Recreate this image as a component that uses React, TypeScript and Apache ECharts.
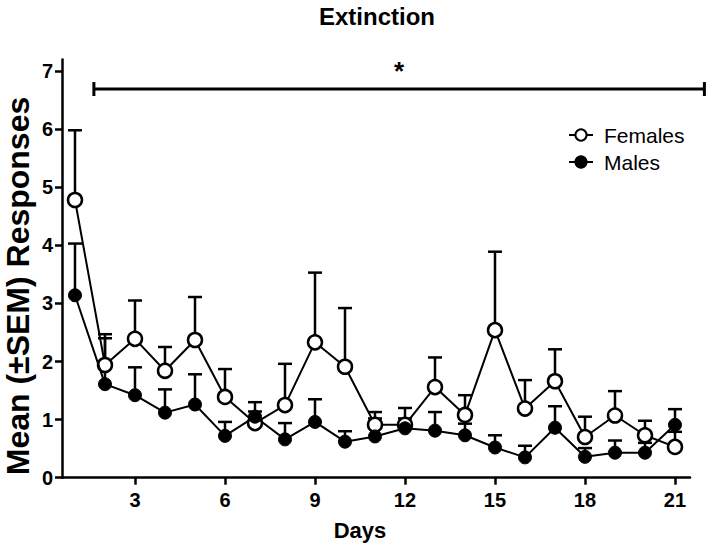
import React, { useEffect, useRef } from "react";
import * as echarts from "echarts";

const days = [1, 2, 3, 4, 5, 6, 7, 8, 9, 10, 11, 12, 13, 14, 15, 16, 17, 18, 19, 20, 21];
const females = [4.78, 1.94, 2.39, 1.84, 2.37, 1.39, 0.94, 1.25, 2.33, 1.91, 0.91, 0.91, 1.56, 1.08, 2.54, 1.19, 1.66, 0.7, 1.07, 0.73, 0.53];
const femalesSEM = [1.2, 0.53, 0.66, 0.41, 0.74, 0.48, 0.2, 0.71, 1.2, 1.01, 0.22, 0.29, 0.51, 0.34, 1.35, 0.49, 0.55, 0.35, 0.42, 0.25, 0.26];
const males = [3.14, 1.61, 1.42, 1.12, 1.26, 0.72, 1.05, 0.66, 0.96, 0.62, 0.71, 0.85, 0.81, 0.73, 0.52, 0.35, 0.86, 0.36, 0.43, 0.43, 0.91];
const malesSEM = [0.89, 0.79, 0.48, 0.4, 0.52, 0.24, 0.25, 0.28, 0.39, 0.18, 0.31, 0.17, 0.32, 0.2, 0.21, 0.2, 0.37, 0.15, 0.21, 0.17, 0.27];
const xTicks = [3, 6, 9, 12, 15, 18, 21];
const yTicks = [0, 1, 2, 3, 4, 5, 6, 7];
const sigBar = { start: 1.63, end: 21.98, y: 6.69, label: "*" };

const FONT = "'Liberation Sans', Arial, Helvetica, sans-serif";

function errorSeries(name: string, means: number[], sems: number[]) {
  return {
    type: "custom",
    name: name + " SEM",
    z: 1,
    silent: true,
    encode: { x: 0, y: [1, 2] },
    data: days.map((d, i) => [d, means[i], means[i] + sems[i]]),
    renderItem: (params: any, api: any) => {
      const x = api.value(0);
      const p0 = api.coord([x, api.value(1)]);
      const p1 = api.coord([x, api.value(2)]);
      return {
        type: "group",
        children: [
          { type: "line", shape: { x1: p0[0], y1: p0[1], x2: p1[0], y2: p1[1] }, style: { stroke: "#000", lineWidth: 2.5 } },
          { type: "line", shape: { x1: p1[0] - 7, y1: p1[1], x2: p1[0] + 7, y2: p1[1] }, style: { stroke: "#000", lineWidth: 2.5 } },
        ],
      };
    },
  };
}

export default function App() {
  const ref = useRef<HTMLDivElement>(null);
  useEffect(() => {
    if (!ref.current) return;
    const chart = echarts.init(ref.current, undefined, { renderer: "svg" });
    chart.setOption({
      animation: false,
      backgroundColor: "#fff",
      textStyle: { fontFamily: FONT },
      grid: { left: 62, right: 19, top: 59.4, bottom: 74.3, containLabel: false },
      graphic: [
        { type: "text", x: 377, y: 16, style: { text: "Extinction", font: `bold 24px ${FONT}`, fill: "#000", align: "center", verticalAlign: "middle" } },
        { type: "text", x: 360, y: 530, style: { text: "Days", font: `bold 22px ${FONT}`, fill: "#000", align: "center", verticalAlign: "middle" } },
        { type: "text", x: 18, y: 286, rotation: Math.PI / 2, style: { text: "Mean (±SEM) Responses", font: `bold 32px ${FONT}`, fill: "#000", align: "center", verticalAlign: "middle" } },
      ],
      legend: {
        orient: "vertical",
        left: 563,
        top: 118,
        itemWidth: 24,
        itemHeight: 14,
        itemGap: 3,
        data: ["Females", "Males"],
        textStyle: { fontSize: 21, color: "#000", fontFamily: FONT, lineHeight: 24, padding: [0, 0, 0, 6] },
      },
      xAxis: {
        type: "value",
        min: 0.567,
        max: 21.5,
        splitLine: { show: false },
        axisLine: { lineStyle: { color: "#000", width: 2.5 } },
        axisTick: { show: true, length: 7, lineStyle: { color: "#000", width: 2.5 }, customValues: xTicks },
        axisLabel: { customValues: xTicks, color: "#000", fontSize: 20, fontWeight: "bold", margin: 12, fontFamily: FONT },
      },
      yAxis: {
        type: "value",
        min: 0,
        max: 7.2,
        splitLine: { show: false },
        axisLine: { show: true, lineStyle: { color: "#000", width: 2.5 } },
        axisTick: { show: true, length: 7, lineStyle: { color: "#000", width: 2.5 }, customValues: yTicks },
        axisLabel: { customValues: yTicks, color: "#000", fontSize: 20, fontWeight: "bold", margin: 9, fontFamily: FONT },
      },
      series: [
        errorSeries("Females", females, femalesSEM),
        errorSeries("Males", males, malesSEM),
        {
          type: "line",
          name: "Females",
          z: 3,
          data: days.map((d, i) => [d, females[i]]),
          symbol: "circle",
          symbolSize: 14,
          showAllSymbol: true,
          itemStyle: { color: "#fff", borderColor: "#000", borderWidth: 2.5 },
          lineStyle: { color: "#000", width: 2 },
        },
        {
          type: "line",
          name: "Males",
          z: 4,
          data: days.map((d, i) => [d, males[i]]),
          symbol: "circle",
          symbolSize: 13,
          showAllSymbol: true,
          itemStyle: { color: "#000", borderColor: "#000", borderWidth: 1 },
          lineStyle: { color: "#000", width: 2 },
        },
        {
          type: "custom",
          name: "sig",
          silent: true,
          z: 5,
          encode: { x: [0, 1], y: 2 },
          data: [[sigBar.start, sigBar.end, sigBar.y]],
          renderItem: (params: any, api: any) => {
            const a = api.coord([api.value(0), api.value(2)]);
            const b = api.coord([api.value(1), api.value(2)]);
            const mid = api.coord([(api.value(0) + api.value(1)) / 2, api.value(2)]);
            return {
              type: "group",
              children: [
                { type: "line", shape: { x1: a[0], y1: a[1], x2: b[0], y2: b[1] }, style: { stroke: "#000", lineWidth: 3 } },
                { type: "line", shape: { x1: a[0], y1: a[1] - 7, x2: a[0], y2: a[1] + 7 }, style: { stroke: "#000", lineWidth: 3 } },
                { type: "line", shape: { x1: b[0], y1: b[1] - 7, x2: b[0], y2: b[1] + 7 }, style: { stroke: "#000", lineWidth: 3 } },
                { type: "text", x: mid[0], y: a[1] - 18, style: { text: sigBar.label, font: `bold 26px ${FONT}`, fill: "#000", align: "center", verticalAlign: "middle" } },
              ],
            };
          },
        },
      ],
    });
    return () => chart.dispose();
  }, []);
  return <div ref={ref} style={{ width: 709, height: 552, position: "absolute", left: 0, top: 0 }} />;
}
